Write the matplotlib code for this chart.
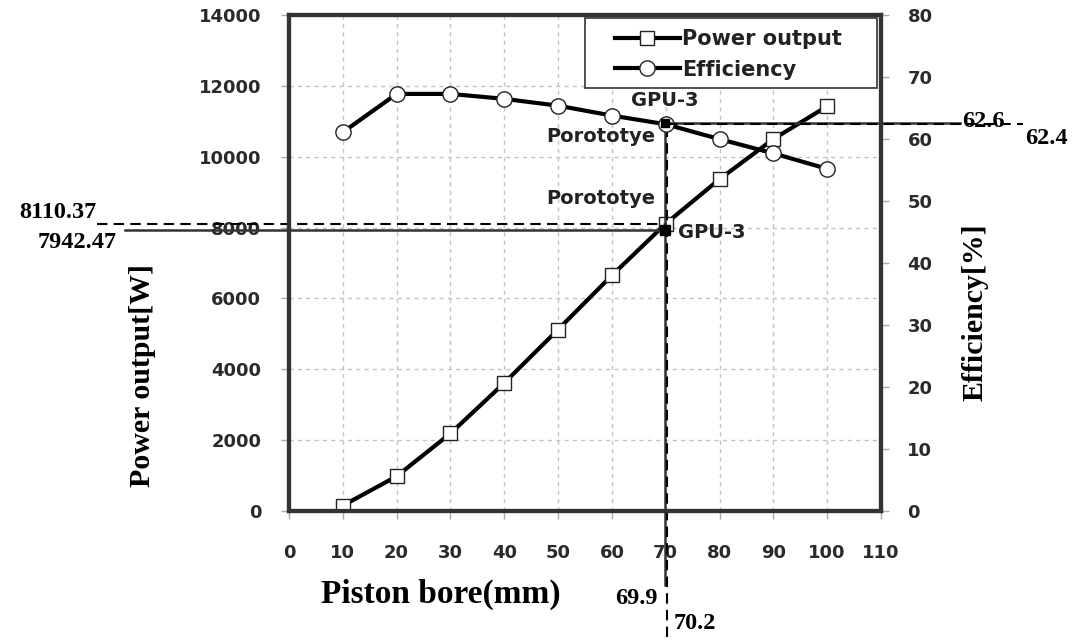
import matplotlib
matplotlib.use("Agg")
import matplotlib.pyplot as plt
from matplotlib.patches import Rectangle

# data
bore = [10, 20, 30, 40, 50, 60, 70, 80, 90, 100]
power = [143, 971, 2183, 3609, 5119, 6649, 8110, 9368, 10501, 11428]
efficiency = [61.1, 67.3, 67.3, 66.5, 65.4, 63.8, 62.4, 60.0, 57.7, 55.2]

x_ticks = list(range(0, 111, 10))
power_ticks = list(range(0, 14001, 2000))
eff_ticks = list(range(0, 81, 10))

# GPU-3 vs prototype markers
gpu3_bore, gpu3_power, gpu3_eff = 69.9, 7942.47, 62.6
proto_bore, proto_power, proto_eff = 70.2, 8110.37, 62.4

SANS = "DejaVu Sans"
SERIF = "Liberation Serif"
GRID = "#c4c4c4"
SPINE = "#333333"

fig = plt.figure(figsize=(10.79, 6.41), dpi=100)
ax1 = fig.add_axes([0.2678, 0.2033, 0.5487, 0.7729])
ax2 = ax1.twinx()

ax1.set_xlim(0, 110)
ax1.set_ylim(0, 14000)
ax2.set_ylim(0, 80)
ax1.set_xticks(x_ticks)
ax1.set_yticks(power_ticks)
ax2.set_yticks(eff_ticks)

ax1.grid(True, color=GRID, linestyle=(0, (3, 3)), linewidth=1)
ax1.set_axisbelow(True)

for ax in (ax1, ax2):
    for s in ax.spines.values():
        s.set_linewidth(3)
        s.set_color(SPINE)
    ax.tick_params(length=6, width=1, color="#aaaaaa")
ax1.tick_params(axis="x", pad=18)
ax1.tick_params(axis="y", pad=14)
ax2.tick_params(axis="y", pad=13)
for lab in ax1.get_xticklabels() + ax1.get_yticklabels() + ax2.get_yticklabels():
    lab.set_fontfamily(SANS)
    lab.set_fontweight("bold")
    lab.set_fontsize(13)
    lab.set_color("#2a2a2a")

l1, = ax1.plot(bore, power, color="black", lw=3, marker="s", ms=10,
               mfc="white", mec="#222222", mew=1, label="Power output", zorder=3)
l2, = ax2.plot(bore, efficiency, color="black", lw=3, marker="o", ms=11,
               mfc="white", mec="#222222", mew=1, label="Efficiency", zorder=3)

# reference lines (extend past the axes)
x_left_solid, x_left_dash = -30.5, -35.7
x_right_solid, x_right_dash = 124.7, 136.4
p_bottom_solid, p_bottom_dash = -2100, -3580

ax1.plot([x_left_solid, gpu3_bore], [gpu3_power, gpu3_power], color=SPINE, lw=1.8, clip_on=False, zorder=4)
ax1.plot([x_left_dash, proto_bore], [proto_power, proto_power], color="black", lw=1.5,
         linestyle=(0, (5, 3)), clip_on=False, zorder=4)
ax1.plot([gpu3_bore, gpu3_bore], [p_bottom_solid, gpu3_eff / 80 * 14000], color=SPINE, lw=1.8,
         clip_on=False, zorder=4)
ax1.plot([proto_bore, proto_bore], [p_bottom_dash, proto_eff / 80 * 14000], color="black", lw=1.5,
         linestyle=(0, (5, 3)), clip_on=False, zorder=4)
ax2.plot([gpu3_bore, x_right_solid], [gpu3_eff, gpu3_eff], color=SPINE, lw=1.8, clip_on=False, zorder=4)
ax2.plot([proto_bore, x_right_dash], [proto_eff, proto_eff], color="black", lw=1.5,
         linestyle=(0, (5, 3)), clip_on=False, zorder=4)

ax1.plot([gpu3_bore], [gpu3_power], marker="s", ms=7, color="black", zorder=5)
ax2.plot([gpu3_bore], [gpu3_eff], marker="s", ms=6, color="black", zorder=5)

# text labels
tf = dict(family=SANS, fontweight="bold", fontsize=14, color="#222222")
ax2.text(gpu3_bore, 66.2, "GPU-3", ha="center", va="center", **tf)
ax2.text(68.0, 60.5, "Porototye", ha="right", va="center", **tf)
ax1.text(68.0, 8830, "Porototye", ha="right", va="center", **tf)
ax1.text(72.3, 7867, "GPU-3", ha="left", va="center", **tf)

nf = dict(family=SERIF, fontweight="bold", fontsize=17.5, color="black")
ax1.text(-35.7, 8440, "8110.37", ha="right", va="center", **nf)
ax1.text(-32.0, 7565, "7942.47", ha="right", va="center", **nf)
ax2.text(125.0, 62.8, "62.6", ha="left", va="center", **nf)
ax2.text(136.8, 60.1, "62.4", ha="left", va="center", **nf)
ax1.text(68.5, -2480, "69.9", ha="right", va="center", **nf)
ax1.text(71.4, -3200, "70.2", ha="left", va="center", **nf)

ax1.set_xlabel("Piston bore(mm)", family=SERIF, fontweight="bold", fontsize=24)
ax1.xaxis.set_label_coords(0.257, -0.138)
ax1.set_ylabel("Power output[W]", family=SERIF, fontweight="bold", fontsize=21.5,
               va="center", ha="center")
ax1.yaxis.set_label_coords(-0.248, 0.272)
ax2.set_ylabel("Efficiency[%]", family=SERIF, fontweight="bold", fontsize=21.5,
               rotation=90, va="center", ha="center")
ax2.yaxis.set_label_coords(1.158, 0.401)

leg = ax2.legend(handles=[l1, l2], loc="upper left", bbox_to_anchor=(0.551, 0.972),
                 prop=dict(family=SANS, weight="bold", size=15), handlelength=3.1,
                 handletextpad=0.1, borderpad=0, labelspacing=0.5,
                 frameon=False, borderaxespad=0)
for t in leg.get_texts():
    t.set_color("#222222")
ax2.add_patch(Rectangle((0.5, 0.853), 0.493, 0.1415, transform=ax2.transAxes,
                        facecolor="white", edgecolor="#333333", lw=1.2, zorder=4.5))
leg.set_zorder(6)

fig.savefig("out.png", dpi=100, facecolor="white")
